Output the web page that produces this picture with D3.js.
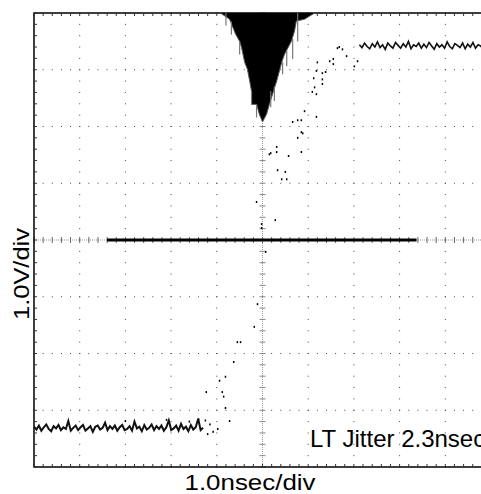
<!DOCTYPE html>
<html>
<head>
<meta charset="utf-8">
<script src="https://cdn.jsdelivr.net/npm/d3@7"></script>
<style>
  body { margin: 0; background: #fff; }
  svg { display: block; }
  text { font-family: "Liberation Sans", Arial, sans-serif; fill: #000; }
</style>
</head>
<body>
<div id="chart"></div>
<script>
// scope settings: 1.0nsec/div, 1.0V/div, 10 x 8 divisions, centre = (0,0)
var xDomain = [-5, 5];
var yDomain = [-4, 4];
var xLabel = "1.0nsec/div";
var yLabel = "1.0V/div";
var noteText = "LT Jitter 2.3nsec";

// cursor bar drawn across centre line (ns)
var jitterBar = [-3.4, 3.37];

// trigger-noise band near the top (ns, V): left edge going down, right edge going up
var bandLeft = [[-0.92, 4.0], [-0.72, 3.89], [-0.63, 3.71], [-0.59, 3.63], [-0.50, 3.50],
  [-0.46, 3.40], [-0.39, 3.13], [-0.33, 3.01], [-0.28, 2.80], [-0.24, 2.62],
  [-0.24, 2.39], [-0.13, 2.39], [-0.07, 2.22], [0, 2.08]];
var bandRight = [[0.09, 2.22], [0.15, 2.39], [0.22, 2.57], [0.31, 2.80], [0.37, 2.98],
  [0.42, 3.13], [0.48, 3.27], [0.63, 3.50], [0.70, 3.68], [0.74, 3.86],
  [0.92, 3.89], [1.14, 4.0]];
// grey streaks on the band edges: [t, vTop, vBottom]
var bandStreaks = [[-0.50, 3.50, 3.27], [-0.24, 2.62, 2.39], [-0.13, 2.39, 2.16],
  [0.77, 4.0, 3.50], [0.66, 3.54, 3.19], [0.53, 3.35, 3.06], [0.44, 3.13, 2.92],
  [0.26, 2.71, 2.45], [0.18, 2.62, 2.34], [-0.80, 4.0, 3.78], [-0.68, 3.85, 3.62]];

// low level trace, samples from -5 ns to -1.3 ns
var lowTrace = [-3.29,-3.34,-3.27,-3.36,-3.30,-3.25,-3.33,-3.37,-3.28,-3.32,-3.26,-3.35,-3.30,-3.33,
  -3.19,-3.36,-3.31,-3.27,-3.35,-3.30,-3.26,-3.36,-3.32,-3.28,-3.38,-3.29,-3.27,-3.34,-3.31,-3.22,
  -3.35,-3.28,-3.33,-3.27,-3.36,-3.30,-3.26,-3.35,-3.33,-3.28,-3.36,-3.20,-3.32,-3.29,-3.37,-3.26,
  -3.34,-3.31,-3.25,-3.35,-3.28,-3.33,-3.27,-3.36,-3.30,-3.18,-3.35,-3.32,-3.27,-3.36,-3.24,-3.33,
  -3.29,-3.37,-3.26,-3.34,-3.30,-3.15,-3.35,-3.31];
var lowSpan = [-5, -1.3];

// high level trace, samples from 2.12 ns to 5 ns
var highTrace = [3.44,3.39,3.47,3.41,3.37,3.46,3.40,3.49,3.39,3.44,3.36,3.47,3.42,3.38,3.48,3.43,
  3.38,3.46,3.40,3.50,3.37,3.44,3.41,3.47,3.38,3.45,3.39,3.48,3.42,3.36,3.46,3.40,3.44,3.38,3.49,
  3.41,3.37,3.46,3.43,3.39,3.47,3.37,3.45,3.40,3.48,3.38,3.44,3.42,3.36,3.47,3.41,3.45];
var highSpan = [2.12, 5];

// scattered samples on the rising edge (ns, V)
var edgePoints = [[-0.55,-1.80],[-0.94,-2.48],[-0.81,-2.41],[-1.23,-2.68],[-0.88,-2.68],
  [-0.81,-2.96],[-0.72,-3.19],[-0.98,-3.33],[-0.11,-1.13],[-0.18,-1.53],[-0.48,-1.80],
  [-0.63,-2.15],[-0.85,-2.76],[0.33,1.23],[0.50,1.20],[0.42,1.07],[0.53,1.07],[-0.13,0.67],
  [0.28,0.35],[0.07,-0.21],[0.92,2.27],[0.77,2.11],[0.85,2.11],[1.18,2.17],[0.66,2.08],
  [0.88,1.88],[0.77,1.80],[0.31,1.64],[0.31,1.55],[0.15,1.51],[0.57,1.48],[0.85,1.55],
  [-0.02,0.28],[-0.02,0.21],[1.20,3.13],[1.47,3.15],[1.55,3.19],[1.55,3.10],[1.68,3.40],
  [1.75,3.36],[1.84,3.24],[2.01,3.06],[2.08,3.15],[1.64,3.38],[1.18,2.98],[1.31,2.94],
  [1.38,2.96],[1.12,2.85],[1.31,2.83],[1.14,2.69],[1.09,2.61],[1.18,2.57],[1.31,2.75],
  [0.85,1.90],[0.18,1.53],[-1.25,-3.18],[-1.15,-3.25],[-1.08,-3.38],[-1.20,-3.42],
  [-1.40,-3.16],[-1.60,-3.20],[-2.10,-3.17],[-3.00,-3.19]];

var W = 481, H = 494;
var svg = d3.select("#chart").append("svg")
    .attr("width", W)
    .attr("height", H);

var x = d3.scaleLinear().domain(xDomain).range([34, 491]);
var y = d3.scaleLinear().domain(yDomain).range([467, 13]);

var minorX = d3.range(xDomain[0], xDomain[1] + 0.001, 0.2);
var minorY = d3.range(yDomain[0], yDomain[1] + 0.001, 0.2);

// dotted graticule
var grid = svg.append("g");
d3.range(-4, 5).filter(function(d) { return d !== 0; }).forEach(function(t) {
  grid.selectAll(null).data(minorY).enter().append("rect")
    .attr("x", x(t) - 0.5).attr("y", function(d) { return y(d) - 0.5; })
    .attr("width", 1).attr("height", 1).attr("fill", "#444");
});
d3.range(-3, 4).filter(function(d) { return d !== 0; }).forEach(function(v) {
  grid.selectAll(null).data(minorX).enter().append("rect")
    .attr("x", function(d) { return x(d) - 0.5; }).attr("y", y(v) - 0.5)
    .attr("width", 1).attr("height", 1).attr("fill", "#444");
});

// centre axes
grid.append("line")
  .attr("x1", x(0)).attr("x2", x(0)).attr("y1", y(4)).attr("y2", y(-4))
  .attr("stroke", "#999").attr("stroke-dasharray", "1,1");
grid.append("line")
  .attr("x1", x(-5)).attr("x2", x(5)).attr("y1", y(0)).attr("y2", y(0))
  .attr("stroke", "#999").attr("stroke-dasharray", "1,1");
grid.selectAll(".cy").data(minorY).enter().append("line")
  .attr("x1", x(0) - 3).attr("x2", x(0) + 3)
  .attr("y1", function(d) { return y(d); }).attr("y2", function(d) { return y(d); })
  .attr("stroke", "#888");
grid.selectAll(".cx").data(minorX).enter().append("line")
  .attr("y1", y(0) - 3).attr("y2", y(0) + 3)
  .attr("x1", function(d) { return x(d); }).attr("x2", function(d) { return x(d); })
  .attr("stroke", "#666");

// frame with inward ticks
svg.append("path")
  .attr("d", "M" + x(5) + "," + y(4) + "H" + x(-5) + "V" + y(-4) + "H" + x(5))
  .attr("fill", "none").attr("stroke", "#000").attr("stroke-width", 1.5);
svg.append("g").selectAll("line").data(minorX).enter().append("line")
  .attr("x1", function(d) { return x(d); }).attr("x2", function(d) { return x(d); })
  .attr("y1", y(4)).attr("y2", y(4) + 3).attr("stroke", "#333");
svg.append("g").selectAll("line").data(minorX).enter().append("line")
  .attr("x1", function(d) { return x(d); }).attr("x2", function(d) { return x(d); })
  .attr("y1", y(-4)).attr("y2", y(-4) - 3).attr("stroke", "#333");
svg.append("g").selectAll("line").data(minorY).enter().append("line")
  .attr("y1", function(d) { return y(d); }).attr("y2", function(d) { return y(d); })
  .attr("x1", x(-5)).attr("x2", x(-5) + 3).attr("stroke", "#333");

// noise band
var band = bandLeft.concat(bandRight);
svg.append("path")
  .datum(band)
  .attr("d", d3.line().x(function(d) { return x(d[0]); }).y(function(d) { return y(d[1]); }))
  .attr("fill", "#000").attr("stroke", "#555").attr("stroke-width", 1);
svg.append("g").selectAll("line").data(bandStreaks).enter().append("line")
  .attr("x1", function(d) { return x(d[0]); }).attr("x2", function(d) { return x(d[0]); })
  .attr("y1", function(d) { return y(d[1]); }).attr("y2", function(d) { return y(d[2]); })
  .attr("stroke", "#777").attr("stroke-width", 1.2);

// noisy level traces
function tracePath(vals, span) {
  var step = (span[1] - span[0]) / (vals.length - 1);
  return d3.line()
    .x(function(d, i) { return x(span[0] + i * step); })
    .y(function(d) { return y(d); })(vals);
}
svg.append("path").attr("d", tracePath(lowTrace, lowSpan))
  .attr("fill", "none").attr("stroke", "#111").attr("stroke-width", 2);
svg.append("path").attr("d", tracePath(highTrace, highSpan))
  .attr("fill", "none").attr("stroke", "#111").attr("stroke-width", 1.6);

// edge samples
svg.append("g").selectAll("rect").data(edgePoints).enter().append("rect")
  .attr("x", function(d) { return x(d[0]) - 0.75; })
  .attr("y", function(d) { return y(d[1]) - 1; })
  .attr("width", 1.5).attr("height", 2)
  .attr("fill", "#000");

// cursor bar
svg.append("line")
  .attr("x1", x(jitterBar[0])).attr("x2", x(jitterBar[1]))
  .attr("y1", y(0)).attr("y2", y(0))
  .attr("stroke", "#000").attr("stroke-width", 3);

// labels
svg.append("text")
  .attr("x", 250).attr("y", 490)
  .attr("text-anchor", "middle")
  .attr("font-size", 22)
  .attr("textLength", 131).attr("lengthAdjust", "spacingAndGlyphs")
  .text(xLabel);
svg.append("text")
  .attr("transform", "translate(29,274) rotate(-90)")
  .attr("text-anchor", "middle")
  .attr("font-size", 22)
  .attr("textLength", 92).attr("lengthAdjust", "spacingAndGlyphs")
  .text(yLabel);
svg.append("text")
  .attr("x", 310).attr("y", 447)
  .attr("font-size", 24)
  .text(noteText);
</script>
</body>
</html>
